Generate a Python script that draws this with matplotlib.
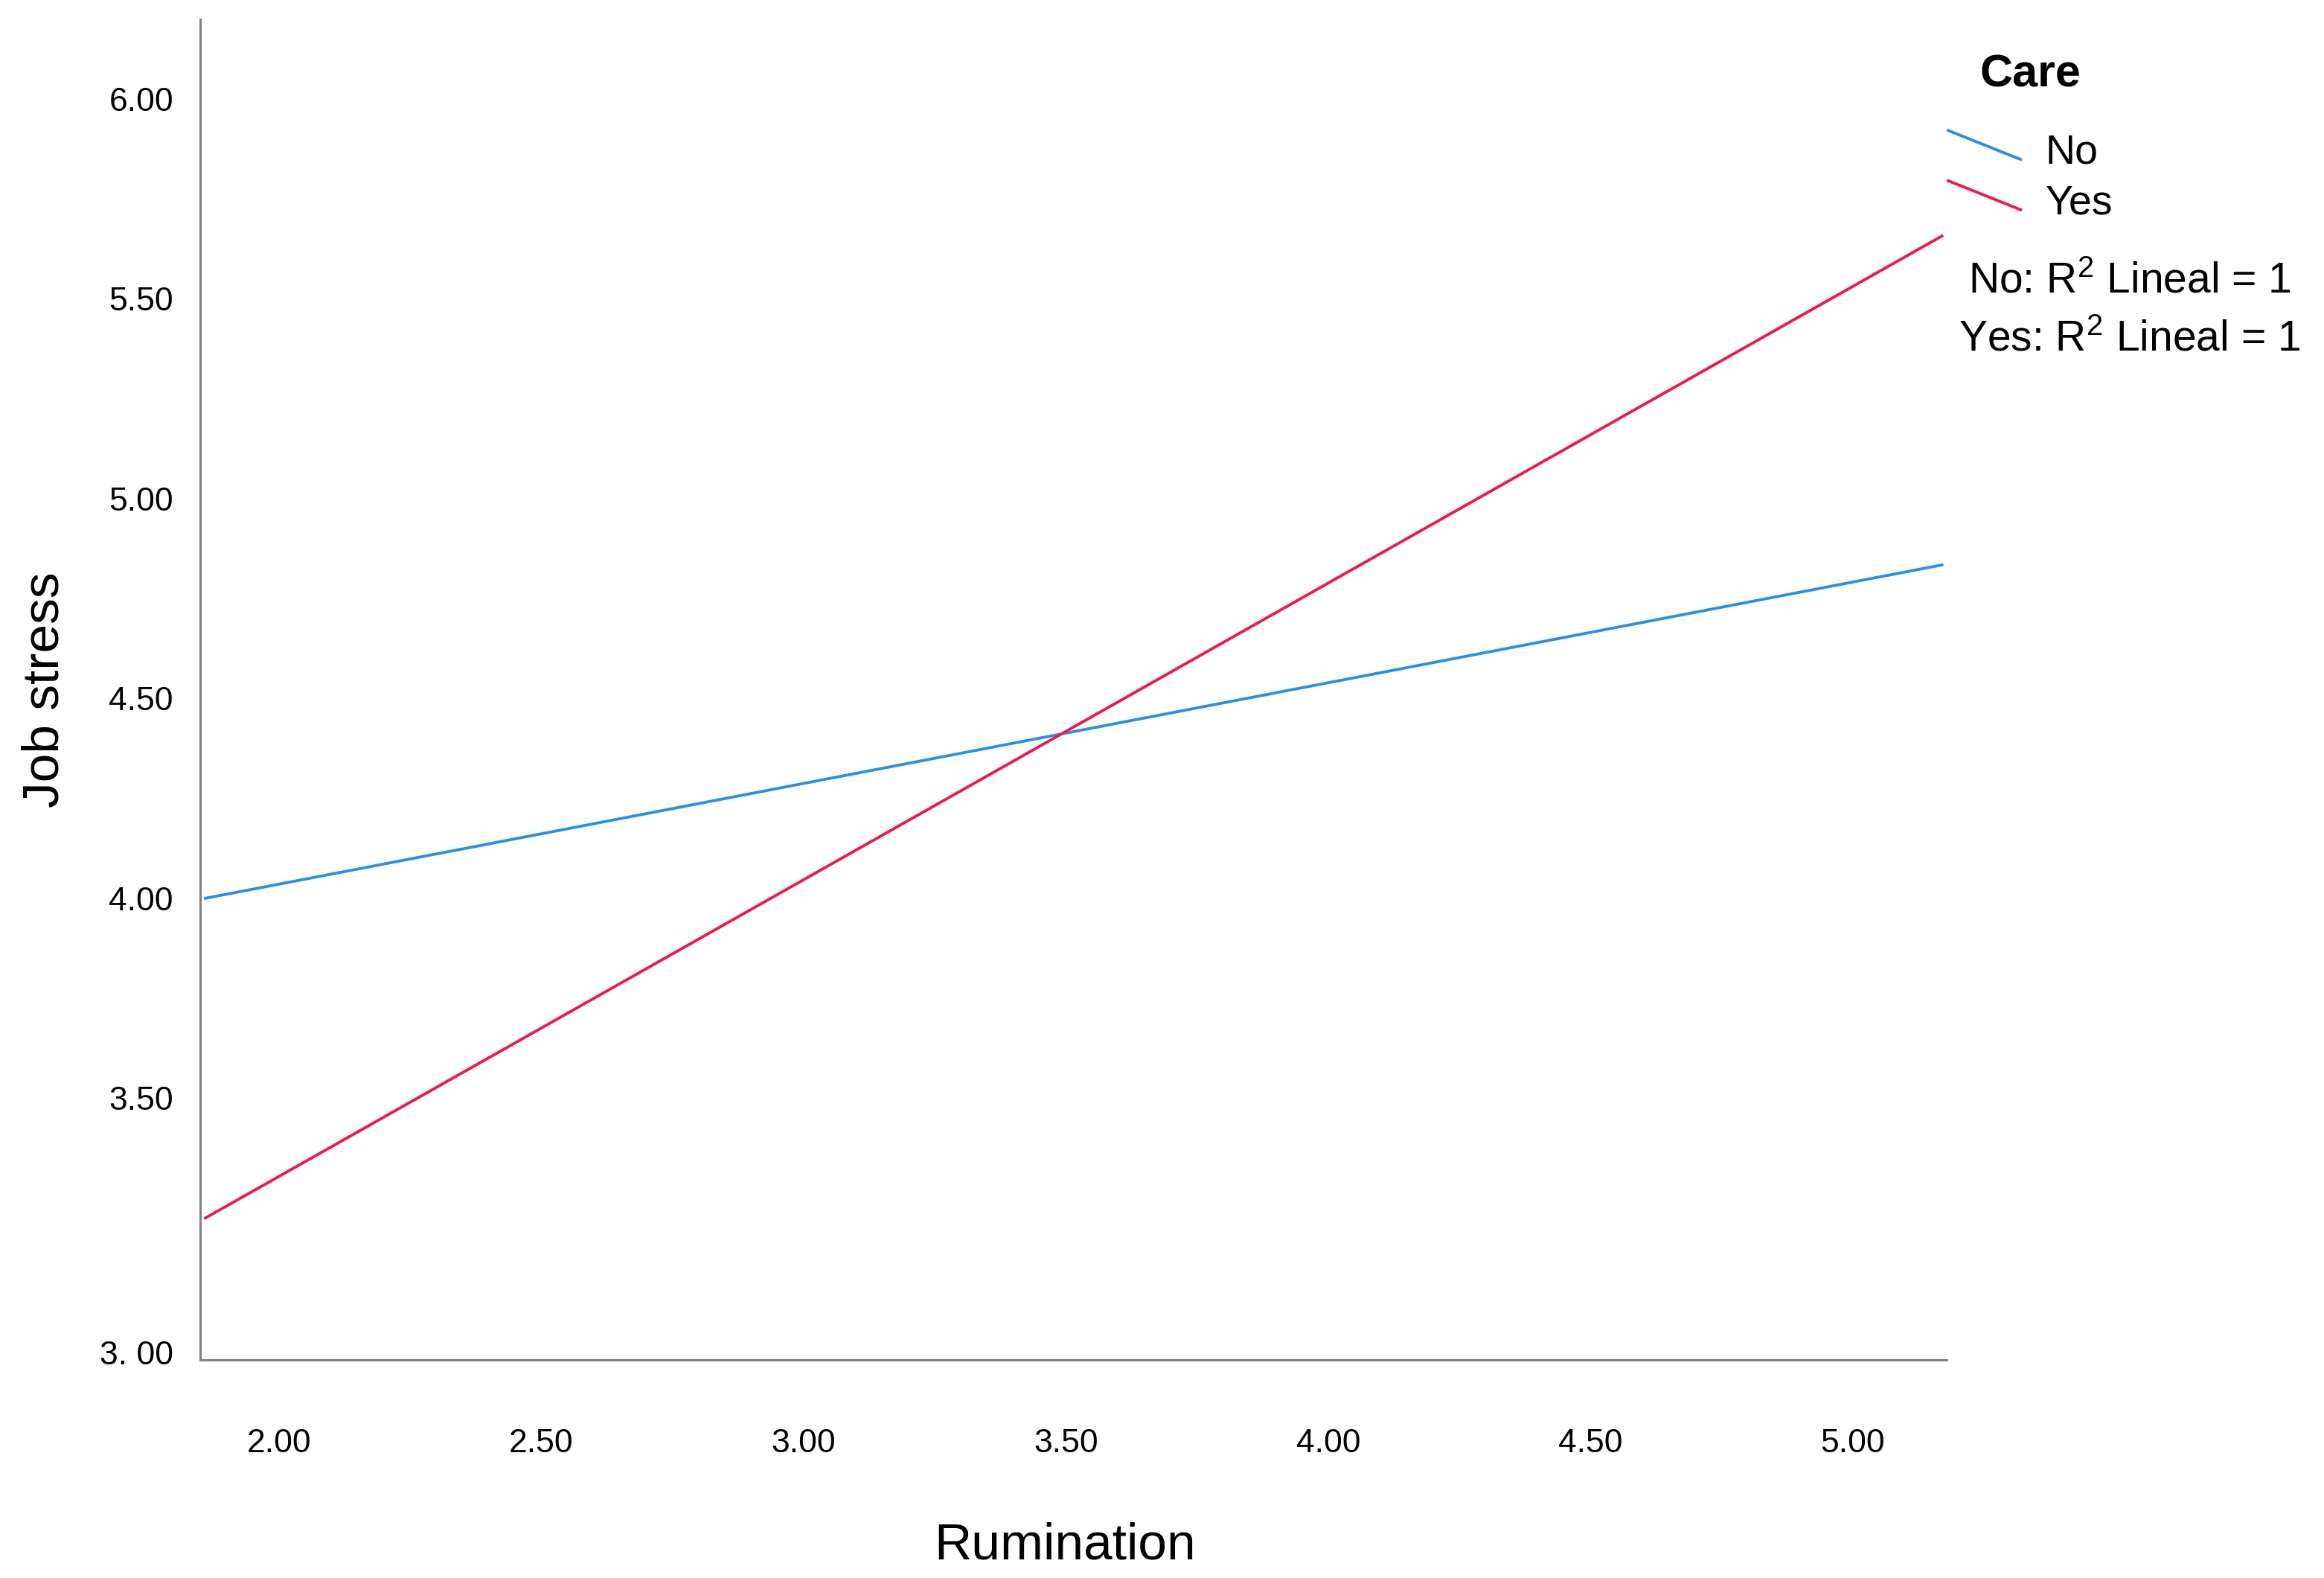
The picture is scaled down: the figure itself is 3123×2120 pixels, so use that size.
import matplotlib
matplotlib.use("Agg")
import matplotlib.pyplot as plt
from matplotlib.lines import Line2D
from matplotlib.legend_handler import HandlerLine2D
import matplotlib.transforms as mtransforms

# datos
grupos = ["No", "Yes"]
rumination = [1.86, 5.17]
job_stress = {
    "No": [4.00, 4.834],
    "Yes": [3.20, 5.657],
}
colores = {"No": "#2a90e2", "Yes": "#ec1a4e"}

xticks = [2.0, 2.5, 3.0, 3.5, 4.0, 4.5, 5.0]
xticklabels = ["2.00", "2.50", "3.00", "3.50", "4.00", "4.50", "5.00"]
yticks = [3.0, 3.5, 4.0, 4.5, 5.0, 5.5, 6.0]
yticklabels = ["3. 00", "3.50", "4.00", "4.50", "5.00", "5.50", "6.00"]
r2_textos = ["No: R$^2$ Lineal = 1", "Yes: R$^2$ Lineal = 1"]

plt.rcParams['font.family'] = ['Liberation Sans', 'DejaVu Sans']
plt.rcParams['mathtext.fontset'] = 'custom'
plt.rcParams['mathtext.rm'] = 'Liberation Sans'
plt.rcParams['mathtext.it'] = 'Liberation Sans'
plt.rcParams['mathtext.bf'] = 'Liberation Sans:bold'


# leyenda con trazo inclinado (estilo SPSS)
class HandlerInclinado(HandlerLine2D):
    def create_artists(self, legend, orig_handle, xdescent, ydescent,
                       width, height, fontsize, trans):
        linea = Line2D([-xdescent, width - xdescent],
                       [height * 1.15 - ydescent, height * 0.15 - ydescent])
        self.update_prop(linea, orig_handle, legend)
        linea.set_transform(trans)
        return [linea]


fig = plt.figure(figsize=(31.23, 21.2), dpi=100)
ax = fig.add_axes([269 / 3123, 1 - 1827 / 2120, (2616 - 269) / 3123, (1827 - 26) / 2120])

for g in grupos:
    ax.plot(rumination, job_stress[g], color=colores[g], lw=2.8, label=g)

ax.set_xlim(1.85, 5.179)
ax.set_ylim(2.845, 6.199)

ax.set_xticks(xticks)
ax.set_xticklabels(xticklabels)
ax.set_yticks(yticks)
ax.set_yticklabels(yticklabels)
ax.tick_params(axis='both', length=0, labelsize=32)
ax.tick_params(axis='y', pad=26)
ax.tick_params(axis='x', pad=66)

# la etiqueta 3.00 aparece mas abajo en el original
lab = ax.get_yticklabels()[0]
lab.set_transform(lab.get_transform() + mtransforms.ScaledTranslation(0, -0.73, fig.dpi_scale_trans))

for s in ['top', 'right']:
    ax.spines[s].set_visible(False)
for s in ['left', 'bottom']:
    ax.spines[s].set_color('#808080')
    ax.spines[s].set_linewidth(2.2)

ax.set_xlabel("Rumination", fontsize=50)
ax.set_ylabel("Job stress", fontsize=50)
ax.xaxis.set_label_coords(0.495, -0.121)
ax.yaxis.set_label_coords(-0.075, 0.5)

leg = ax.legend(handler_map={Line2D: HandlerInclinado()}, loc='upper left',
                bbox_to_anchor=(2618 / 3123, 1 - 180 / 2120),
                bbox_transform=fig.transFigure, frameon=False, fontsize=40,
                handlelength=1.75, handletextpad=0.6, labelspacing=0.28,
                borderpad=0, borderaxespad=0)

fig.text(2728 / 3123, 1 - 101 / 2120, "Care", fontsize=44, fontweight='bold',
         ha='center', va='center')
fig.text(2862 / 3123, 1 - 378 / 2120, r2_textos[0], fontsize=41, ha='center', va='center')
fig.text(2862 / 3123, 1 - 456 / 2120, r2_textos[1], fontsize=41, ha='center', va='center')

fig.savefig("out.png", dpi=100)
